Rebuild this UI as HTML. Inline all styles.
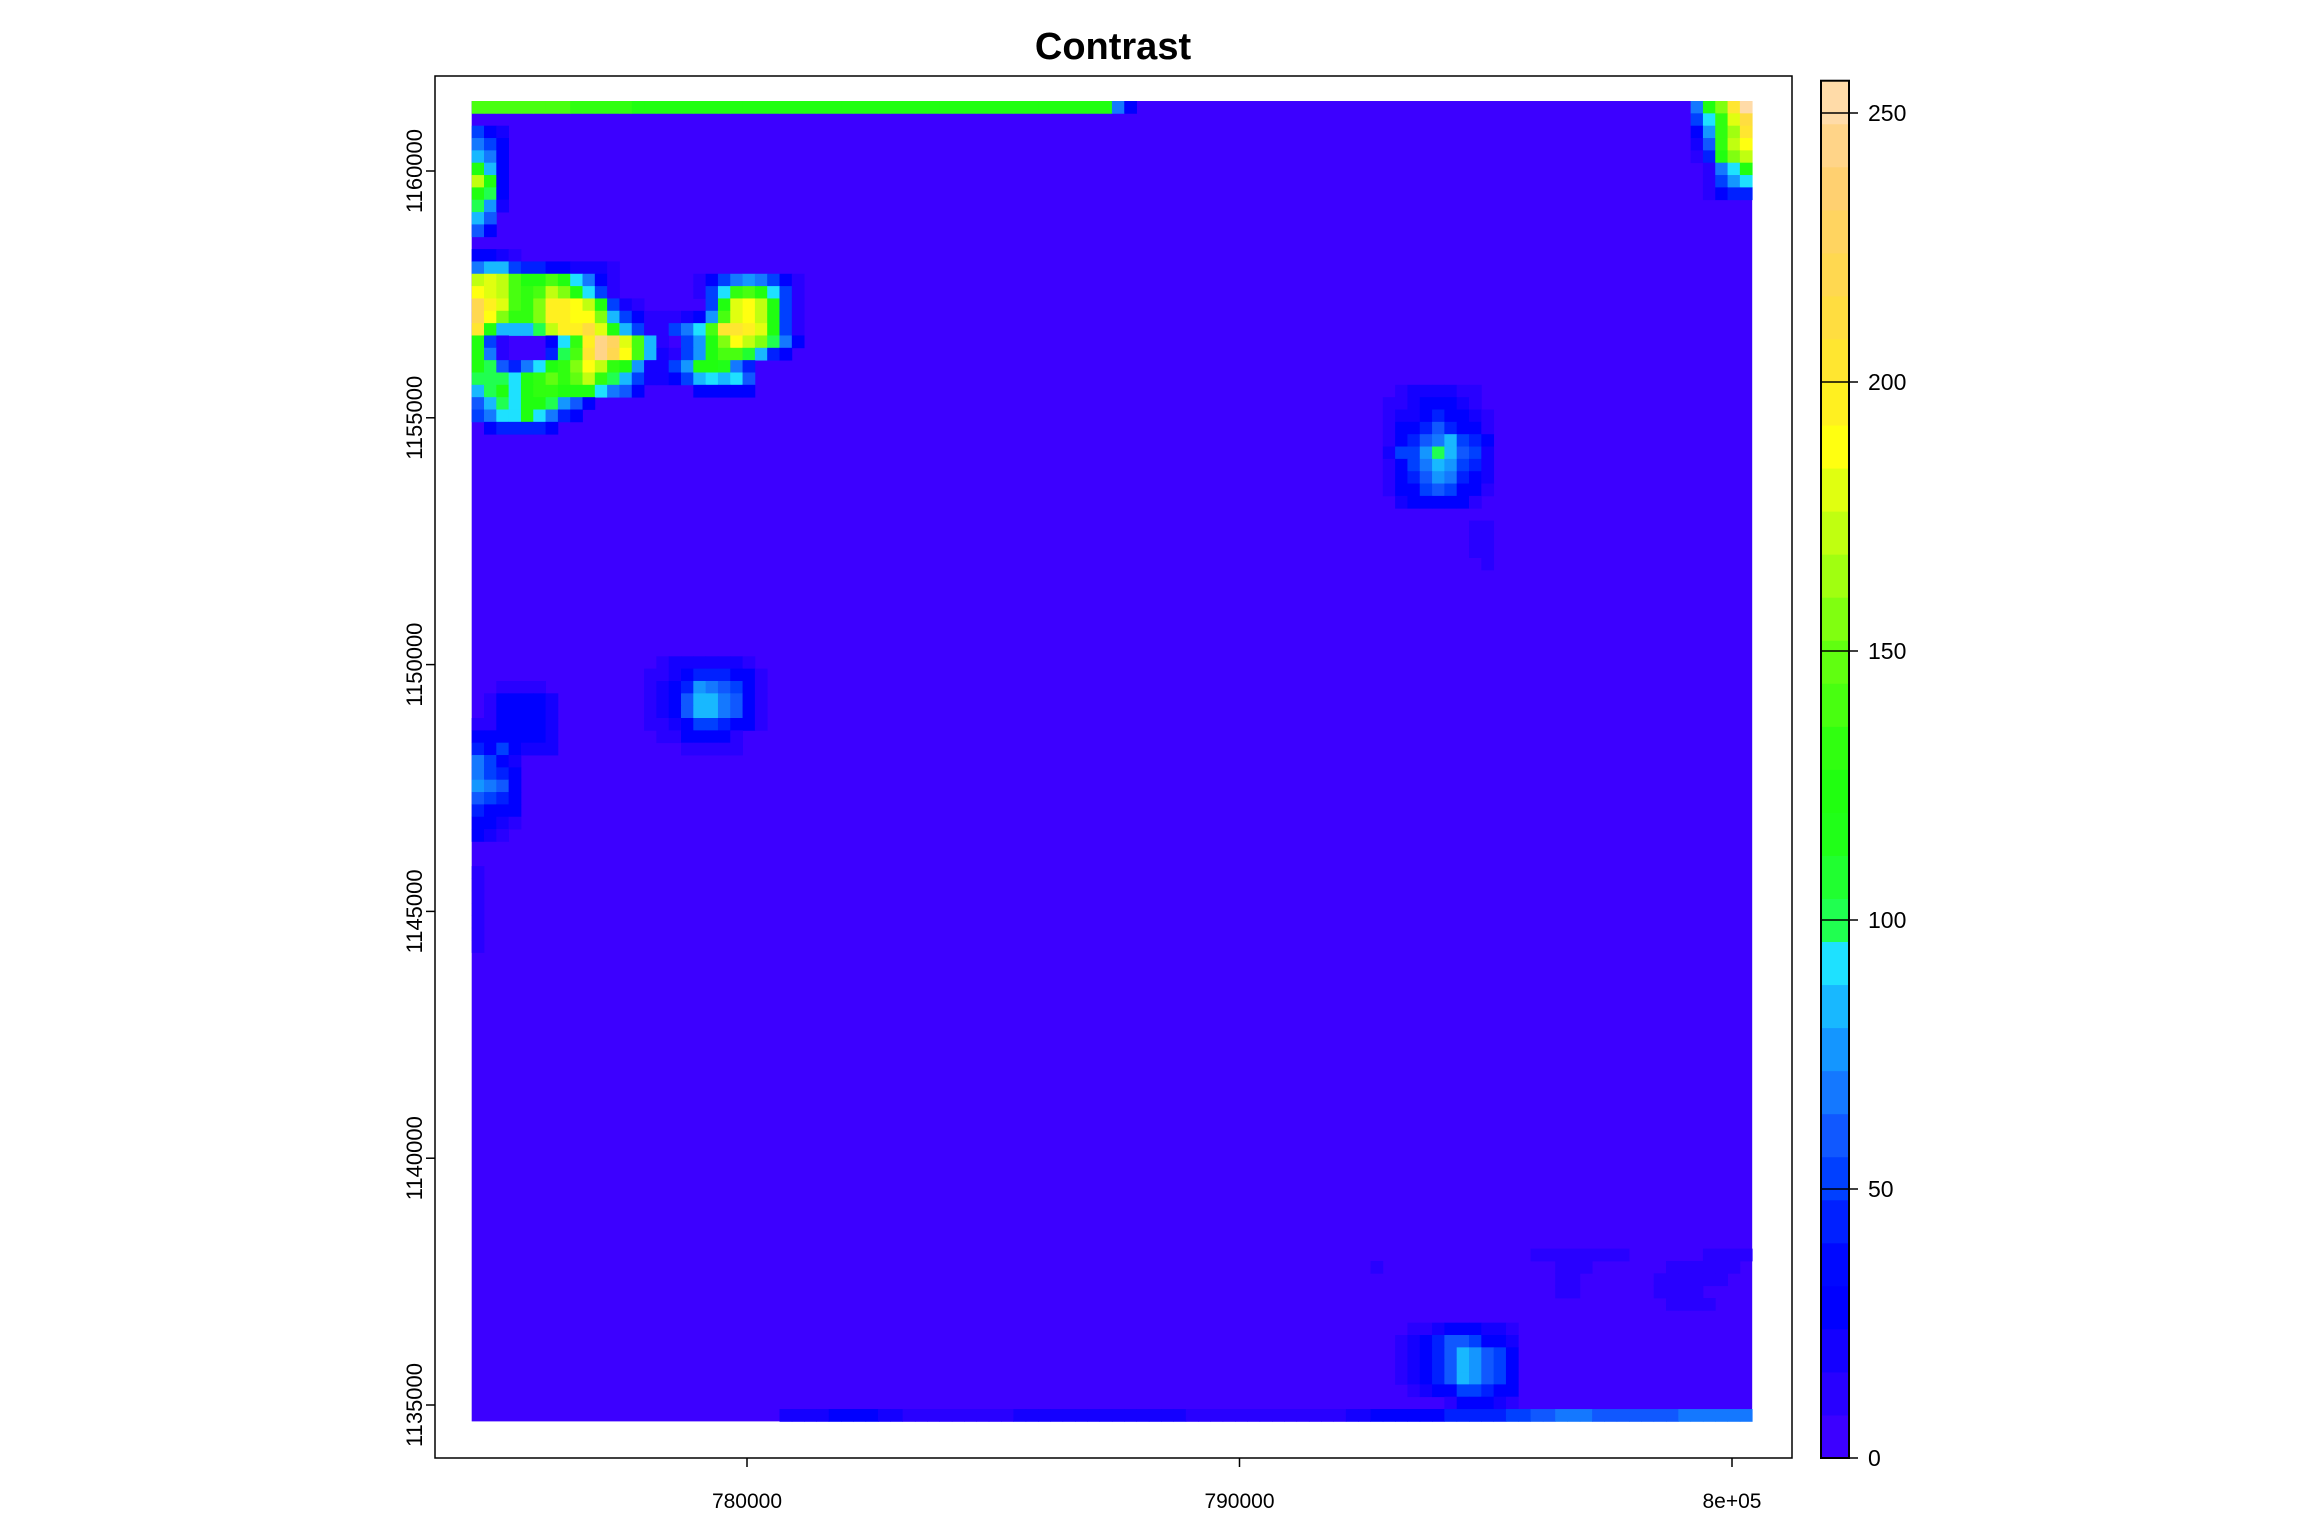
<!DOCTYPE html>
<html><head><meta charset="utf-8"><style>
html,body{margin:0;padding:0;background:#fff;}
svg{display:block;}
text{font-family:"Liberation Sans",sans-serif;fill:#000;}
</style></head><body>
<svg id="chart" width="2304" height="1536" viewBox="0 0 2304 1536" xmlns="http://www.w3.org/2000/svg">
<text x="1113" y="59" font-size="38" font-weight="bold" text-anchor="middle">Contrast</text>
<g id="raster"></g>
<rect x="435" y="76" width="1357" height="1382" fill="none" stroke="#000" stroke-width="1.5"/>
<g id="axes"></g>
<g id="cbar"></g>
</svg>
<script>
// grid: 104 cols x 107 rows, 250 m cells
const xOrigin = 774410, yTop = 1161418, cellSize = 250, nCols = 104, nRows = 107;
const bandBreakStep = 8;
const bandColors = ["#3C00FF","#2800FF","#1400FF","#0000FF","#0008FF","#0020FF","#0040FF","#1058FF","#1478FF","#1496FF","#18B8FF","#1EE1FF","#20FF50","#20FF30","#20FF18","#20FF10","#30FF10","#48FF10","#60FF10","#80FF10","#A0FF10","#C0FF10","#E0FF10","#FFFF10","#FFF020","#FFE630","#FFDD40","#FFD850","#FFD460","#FFD070","#FFD488","#FFDBA8"];
const xTicks = [780000, 790000, 800000];
const xTickLabels = ["780000", "790000", "8e+05"];
const yTicks = [1135000, 1140000, 1145000, 1150000, 1155000, 1160000];
const yTickLabels = ["1135000","1140000","1145000","1150000","1155000","1160000"];
const cbarTicks = [0, 50, 100, 150, 200, 250];
const cbarMax = 256;
const backgroundBand = 0;
// patches: [row, startCol, band codes] (code char = band index base 32)
const patches = [
[0,0,"hhhhhhhhggggg"+"f".repeat(39)+"83"],[0,99,"8fjpv"],
[1,99,"6bgmq"],[2,0,"632"],[2,99,"39gkp"],[3,0,"863"],[3,99,"27gln"],
[4,0,"a83"],[4,99,"15fjl"],[5,0,"fa3"],[5,100,"18bf"],[6,0,"lf3"],[6,100,"169b"],
[7,0,"fc3"],[7,100,"1355"],[8,0,"c92"],[9,0,"a7"],[10,0,"73"],
[12,0,"3321"],
[13,0,"8aa6553322210"],
[14,0,"lmlhffhfb831"],[14,18,"136898631"],
[15,0,"nmlhghljfb61"],[15,18,"16bghfb61"],
[16,0,"romhgjoonlf621"],[16,19,"6fmnlf61"],
[17,0,"rnjggjoonnja631112"],[17,18,"39hmnlf61"],
[18,0,"pfaaaclooqmfa61168bhppomf61"],
[19,0,"f610003bgousmha1069fjnljc83"],
[20,0,"f810005chpurnha2169fhhda53"],
[21,0,"fc758bfgjnlgf92269ffe85"],
[22,0,"cccbfgigilgca62236abab7"],
[23,0,"acfbfggfffb873"],[23,18,"33333"],
[24,0,"7acbffc973"],[25,0,"68bbfb853"],[26,1,"355553"],
[23,75,"1222211"],[24,74,"11233321"],[25,74,"122353321"],[26,74,"133575331"],
[27,74,"13578a653"],[28,74,"2669ca762"],[29,74,"1368a9652"],[30,74,"135798532"],
[31,74,"133676331"],[32,75,"2333331"],[34,81,"11"],[35,81,"11"],[36,81,"11"],[37,82,"1"],
[45,15,"12222221"],[46,14,"1123555331"],[47,2,"1111"],[47,14,"1235987631"],
[48,1,"133332"],[48,14,"1237aa8731"],[49,1,"133332"],[49,14,"1237aa8731"],
[50,0,"1133332"],[50,14,"1123665331"],[51,0,"3333332"],[51,15,"1133331"],
[52,0,"5363222"],[52,17,"11111"],[53,0,"8632"],[54,0,"8653"],[55,0,"9873"],
[56,0,"7653"],[57,0,"5333"],[58,0,"3321"],[59,0,"321"],
[62,0,"1"],[63,0,"1"],[64,0,"1"],[65,0,"1"],[66,0,"1"],[67,0,"1"],[68,0,"1"],
[93,86,"11111111"],[93,100,"1111"],[94,73,"1"],[94,88,"111"],[94,97,"111111"],
[95,88,"11"],[95,96,"111111"],[96,88,"11"],[96,96,"1111"],[97,97,"1111"],
[99,76,"112333221"],[100,75,"1235776332"],[101,75,"12357a9763"],[102,75,"12357a9763"],
[103,75,"12357a9763"],[104,76,"123366533"],[105,79,"133321"],
[106,25,"2222333322111111111222222222222221111111111111223333335555566778887777777888888"]
];
const NS = "http://www.w3.org/2000/svg";
const xScale = v => 747 + (v - 780000) * 0.04925;
const yScale = v => 171 + (1160000 - v) * 0.04936;
const cScale = v => 1458 - v * (1458 - 113) / 250;
const bandOf = v => Math.min(bandColors.length - 1, Math.max(0, Math.floor(v / bandBreakStep)));
function mk(tag, attrs, parent) { const e = document.createElementNS(NS, tag); for (const k in attrs) e.setAttribute(k, attrs[k]); parent.appendChild(e); return e; }
const grid = [];
for (let r = 0; r < nRows; r++) { grid.push(new Array(nCols).fill(backgroundBand * bandBreakStep + 4)); }
patches.forEach(p => { const s = p[2]; for (let i = 0; i < s.length; i++) { const c = p[1] + i; if (c < nCols) grid[p[0]][c] = parseInt(s[i], 32) * bandBreakStep + 4; } });
const raster = document.getElementById('raster');
const bg = mk('rect', {x: xScale(xOrigin), y: yScale(yTop), width: xScale(xOrigin + nCols * cellSize) - xScale(xOrigin), height: yScale(yTop - nRows * cellSize) - yScale(yTop), fill: bandColors[backgroundBand]}, raster);


for (let r = 0; r < nRows; r++) for (let c = 0; c < nCols; c++) {
  const b = bandOf(grid[r][c]); if (b === backgroundBand) continue;
  const x0 = xScale(xOrigin + c * cellSize), x1 = xScale(xOrigin + (c + 1) * cellSize);
  const y0 = yScale(yTop - r * cellSize), y1 = yScale(yTop - (r + 1) * cellSize);
  const e = mk('rect', {x: x0, y: y0, width: x1 - x0 + 0.4, height: y1 - y0 + 0.4, fill: bandColors[b]}, raster);
  
  
}
const axes = document.getElementById('axes');
xTicks.forEach((v, i) => {
  const x = xScale(v);
  const l = mk('line', {x1: x, x2: x, y1: 1458, y2: 1467, stroke: '#000', 'stroke-width': 1.5}, axes);
  
  
  const t = mk('text', {x: x, y: 1508, 'font-size': 21, 'text-anchor': 'middle'}, axes);
  t.textContent = xTickLabels[i];
  
  
});
yTicks.forEach((v, i) => {
  const y = yScale(v);
  const l = mk('line', {x1: 426, x2: 435, y1: y, y2: y, stroke: '#000', 'stroke-width': 1.5}, axes);
  
  
  const t = mk('text', {x: 0, y: 0, 'font-size': 22, 'text-anchor': 'middle', transform: `translate(422,${y}) rotate(-90)`}, axes);
  t.textContent = yTickLabels[i];
  
  
});
const cbar = document.getElementById('cbar');
bandColors.forEach((col, i) => {
  const y0 = cScale((i + 1) * bandBreakStep), y1 = cScale(i * bandBreakStep);
  const e = mk('rect', {x: 1821, y: y0, width: 28, height: y1 - y0 + 0.5, fill: col}, cbar);
  
  
});
const cf = mk('rect', {x: 1821, y: cScale(cbarMax), width: 28, height: cScale(0) - cScale(cbarMax), fill: 'none', stroke: '#000', 'stroke-width': 2}, cbar);


cbarTicks.forEach(v => {
  const y = cScale(v);
  const l = mk('line', {x1: 1821, x2: 1858, y1: y, y2: y, stroke: '#000', 'stroke-width': 1.5}, cbar);
  
  
  const t = mk('text', {x: 1868, y: y + 8, 'font-size': 23}, cbar);
  t.textContent = String(v);
  
  
});
</script>
</body></html>
